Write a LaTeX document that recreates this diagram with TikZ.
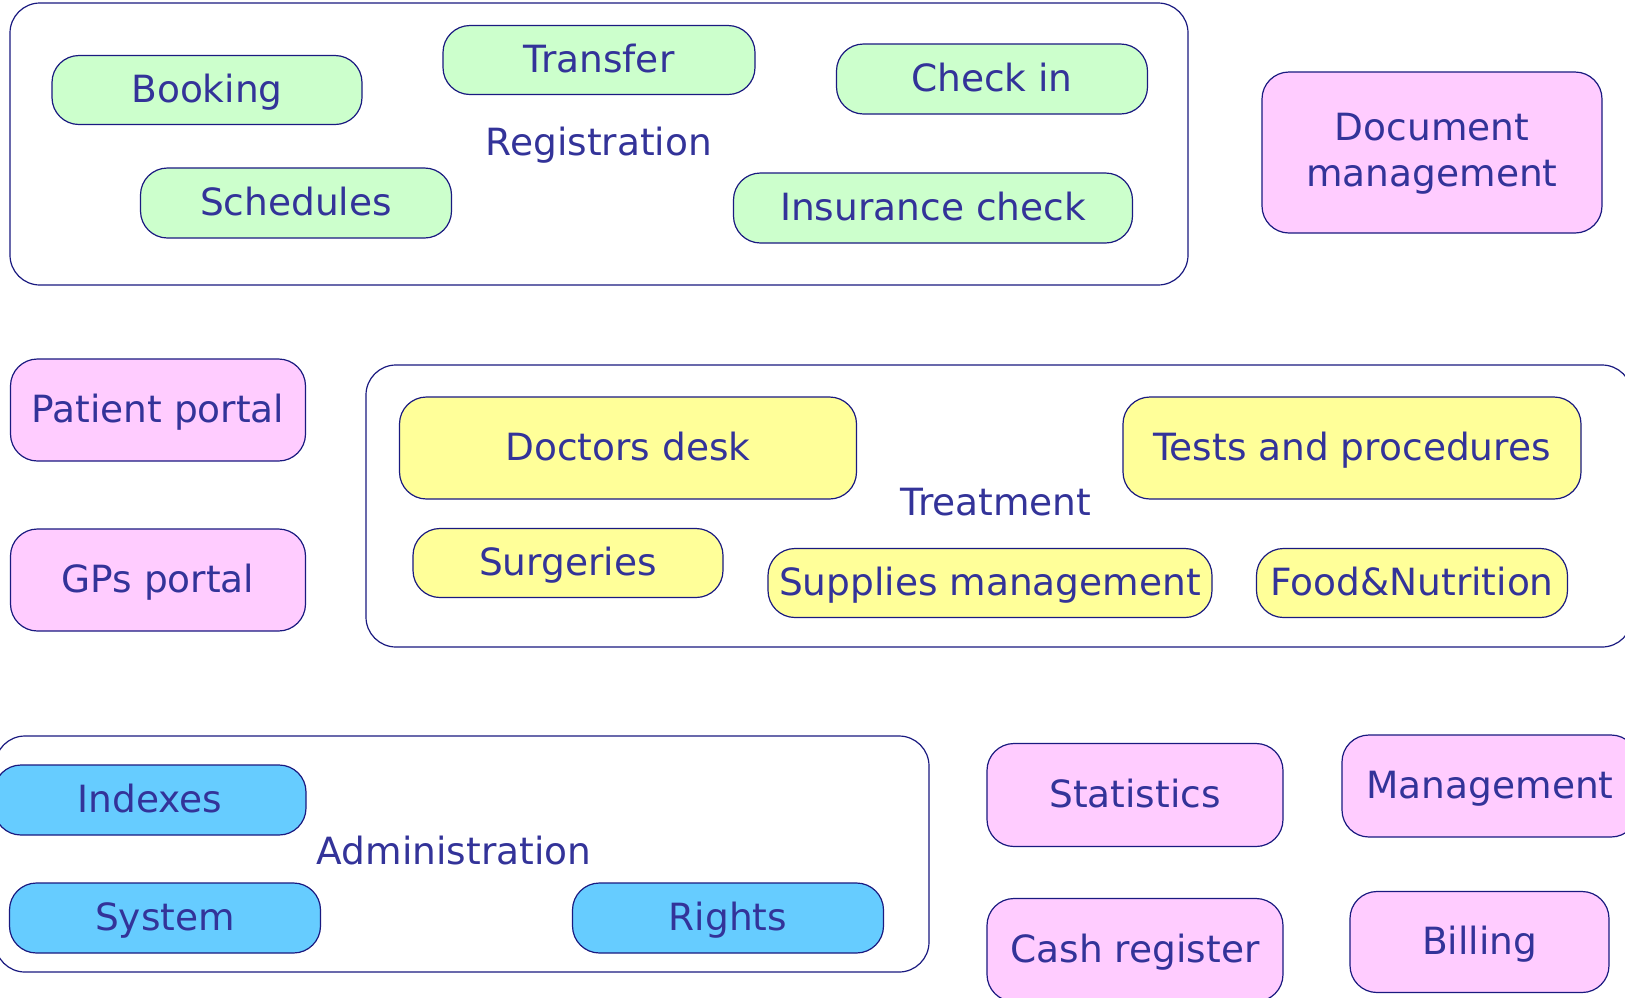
\documentclass[tikz,border=0pt]{standalone}
\usepackage{fontspec}
\setmainfont{DejaVu Sans}
\definecolor{navy}{HTML}{1A1A80}
\definecolor{txt}{HTML}{333399}
\definecolor{gfill}{HTML}{CCFFCC}
\definecolor{yfill}{HTML}{FFFF99}
\definecolor{pfill}{HTML}{FFCCFF}
\definecolor{bfill}{HTML}{66CCFF}
\newcommand{\myfs}{\fontsize{37.5}{46}\selectfont}
\tikzset{
  x=1pt, y=-1pt,
  group/.style={rectangle, draw=navy, line width=1.2pt, rounded corners=30pt, inner sep=0pt},
  item/.style={rectangle, draw=navy, line width=1.2pt, rounded corners=27pt, inner sep=0pt,
    text=txt, font=\myfs, text height=30pt, text depth=6pt},
  gbox/.style={item, fill=gfill},
  ybox/.style={item, fill=yfill},
  pbox/.style={item, fill=pfill},
  bbox/.style={item, fill=bfill},
  lbl/.style={text=txt, font=\myfs, inner sep=0pt, text height=30pt, text depth=6pt},
  wh/.style 2 args={minimum width=#1pt, minimum height=#2pt},
}
\begin{document}
\begin{tikzpicture}
\useasboundingbox (0,0) rectangle (1625,997);
\clip (0,0) rectangle (1625,997);
\fill[white] (0,0) rectangle (1625,997);

% groups
\node[group, wh={1178}{282}] (reg) at (599,144) {};
\node[group, wh={1266}{282}] (treat) at (999,506) {};
\node[group, wh={934}{236}] (admin) at (462,854) {};

% registration
\node[gbox, wh={310}{69}] (booking) at (207,90) {Booking};
\node[gbox, wh={312}{69}] (transfer) at (599,60) {Transfer};
\node[gbox, wh={311}{70}] (checkin) at (992,79) {Check in};
\node[gbox, wh={311}{70}] (schedules) at (296,203) {Schedules};
\node[gbox, wh={399}{70}] (insurance) at (933,208) {Insurance check};
\node[lbl] (reglbl) at (599,143) {Registration};

% document management
\node[pbox, wh={340}{161}] (docman) at (1432,152.5) {};
\node[lbl, anchor=base] (doc1) at (1432,140) {Document};
\node[lbl, anchor=base] (doc2) at (1432,186) {management};

% portals
\node[pbox, wh={295}{102}] (patient) at (158,410) {Patient portal};
\node[pbox, wh={295}{102}] (gps) at (158,580) {GPs portal};

% treatment
\node[ybox, wh={457}{102}] (doctors) at (628,448) {Doctors desk};
\node[ybox, wh={458}{102}] (tests) at (1352,448) {Tests and procedures};
\node[ybox, wh={310}{69}] (surgeries) at (568,563) {Surgeries};
\node[ybox, wh={444}{69}] (supplies) at (990,583) {Supplies management};
\node[ybox, wh={311}{69}] (food) at (1412,583) {Food\&Nutrition};
\node[lbl] (treatlbl) at (996,503) {Treatment};

% administration
\node[bbox, wh={312}{70}] (indexes) at (150,800) {Indexes};
\node[bbox, wh={311}{70}] (system) at (165,918) {System};
\node[bbox, wh={311}{70}] (rights) at (728,918) {Rights};
\node[lbl] (adminlbl) at (454,852) {Administration};

% others
\node[pbox, wh={296}{103}] (stats) at (1135,795) {Statistics};
\node[pbox, wh={296}{103}] (cash) at (1135,950) {Cash register};
\node[pbox, wh={296}{102}] (mgmt) at (1490,786) {Management};
\node[pbox, wh={259}{101}] (billing) at (1479.5,942) {Billing};
\end{tikzpicture}
\end{document}
